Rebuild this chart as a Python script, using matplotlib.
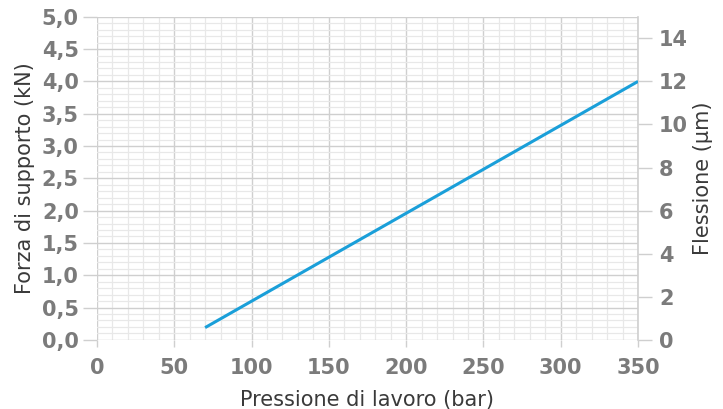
import matplotlib.pyplot as plt
from matplotlib.ticker import MultipleLocator

# Data
pressure = [70, 350]          # bar
force = [0.19, 4.0]           # kN
x_ticks = [0, 50, 100, 150, 200, 250, 300, 350]
y_ticks = [0.0, 0.5, 1.0, 1.5, 2.0, 2.5, 3.0, 3.5, 4.0, 4.5, 5.0]
right_ticks = [0, 2, 4, 6, 8, 10, 12, 14]
um_per_kn = 3.0

plt.rcParams['font.family'] = ['DejaVu Sans']

tick_col = '#7b7b7b'
label_col = '#3a3a3a'
grid_major = '#cfcfcf'
grid_minor = '#e8e8e8'
tick_font = dict(fontsize=15, fontweight='bold', color=tick_col)

fig = plt.figure(figsize=(7.23, 4.09), dpi=100)
ax = fig.add_axes([0.134, 0.169, 0.7485, 0.79])

ax.plot(pressure, force, color='#1a9fd9', lw=2.2, solid_capstyle='butt', zorder=3)

ax.set_xlim(0, 350)
ax.set_ylim(0, 5.0)
ax.set_xticks(x_ticks, labels=[str(v) for v in x_ticks], **tick_font)
ax.set_yticks(y_ticks, labels=[f'{v:.1f}'.replace('.', ',') for v in y_ticks], **tick_font)
ax.xaxis.set_minor_locator(MultipleLocator(10))
ax.yaxis.set_minor_locator(MultipleLocator(0.1))

ax.grid(which='major', color=grid_major, lw=1.0, zorder=1)
ax.grid(which='minor', color=grid_minor, lw=0.9, zorder=0)
ax.set_axisbelow(True)

for s in ['top', 'left', 'bottom']:
    ax.spines[s].set_visible(False)
ax.spines['right'].set_color(grid_major)
ax.spines['right'].set_linewidth(1.2)

ax.tick_params(axis='both', which='minor', length=0)
ax.tick_params(axis='y', which='major', length=10, width=1, color=grid_major, pad=3)
ax.tick_params(axis='x', which='major', length=5, width=1, color=grid_major, pad=8)

ax.set_xlabel('Pressione di lavoro (bar)', fontsize=15, color=label_col, labelpad=9)
ax.set_ylabel('Forza di supporto (kN)', fontsize=15, color=label_col, labelpad=5)

ax2 = ax.twinx()
ax2.set_ylim(0, 5.0 * um_per_kn)
ax2.set_yticks(right_ticks, labels=[str(v) for v in right_ticks], **tick_font)
for s in ['top', 'left', 'bottom', 'right']:
    ax2.spines[s].set_visible(False)
ax2.tick_params(axis='y', which='major', length=10, width=1, color=grid_major, pad=5)
ax2.set_ylabel('Flessione (µm)', fontsize=15, color=label_col, labelpad=4)

fig.savefig('out.png', dpi=100)
